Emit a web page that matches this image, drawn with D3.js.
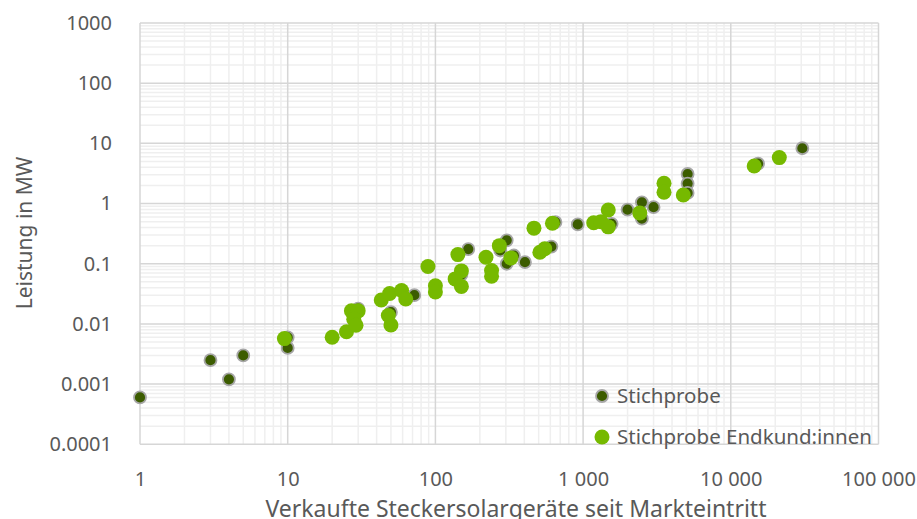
<!DOCTYPE html>
<html>
<head>
<meta charset="utf-8">
<script src="https://cdn.jsdelivr.net/npm/d3@7"></script>
<style>
  body { margin: 0; background: #ffffff; }
  svg text { font-family: "Noto Sans", sans-serif; fill: #595959; }
</style>
</head>
<body>
<script>
// Stichprobe (dunkelgrün)
var sampleX = [1, 3, 4, 5, 10, 10, 30, 50, 72, 150, 167, 275, 304, 304, 340, 404, 610, 650, 920, 1560, 2000, 2500, 2500, 3000, 5100, 5100, 5100, 15300, 30500];
var sampleY = [0.0006, 0.0025, 0.0012, 0.003, 0.006, 0.004, 0.018, 0.0157, 0.030, 0.066, 0.175, 0.166, 0.245, 0.1, 0.137, 0.106, 0.193, 0.49, 0.45, 0.46, 0.79, 1.05, 0.56, 0.87, 3.1, 2.15, 1.5, 4.6, 8.3];

// Stichprobe Endkund:innen (hellgrün)
var endX = [9.5, 20, 25, 27, 30, 28, 29, 43, 49, 48, 50, 59, 63, 89, 100, 100, 142, 150, 136, 150, 220, 240, 240, 271, 324, 465, 510, 550, 620, 1180, 1320, 1480, 1480, 2420, 3530, 3530, 4770, 14400, 21300];
var endY = [0.0057, 0.006, 0.0074, 0.0165, 0.0165, 0.012, 0.0095, 0.025, 0.032, 0.0138, 0.0096, 0.036, 0.026, 0.09, 0.043, 0.034, 0.142, 0.076, 0.056, 0.042, 0.128, 0.077, 0.062, 0.2, 0.125, 0.39, 0.155, 0.177, 0.47, 0.48, 0.5, 0.78, 0.41, 0.7, 2.17, 1.54, 1.39, 4.2, 5.8];

var xTicks = [1, 10, 100, 1000, 10000, 100000];
var xTickLabels = ["1", "10", "100", "1 000", "10 000", "100 000"];
var yTicks = [0.0001, 0.001, 0.01, 0.1, 1, 10, 100, 1000];
var yTickLabels = ["0.0001", "0.001", "0.01", "0.1", "1", "10", "100", "1000"];

var seriesNames = ["Stichprobe", "Stichprobe Endkund:innen"];

var width = 917, height = 519;
var plot = {left: 140, right: 878.5, top: 23, bottom: 444.3};

var svg = d3.select("body").append("svg")
    .attr("width", width)
    .attr("height", height);

var x = d3.scaleLog().domain([1, 100000]).range([plot.left, plot.right]);
var y = d3.scaleLog().domain([0.0001, 1000]).range([plot.bottom, plot.top]);

// Nebengitter (2..9 in jeder Dekade)
var minorX = [], minorY = [];
for (let e = 0; e < 5; e++)
    for (let k = 2; k < 10; k++) minorX.push(k * Math.pow(10, e));
for (let e = -4; e < 3; e++)
    for (let k = 2; k < 10; k++) minorY.push(+(k * Math.pow(10, e)).toPrecision(3));

var grid = svg.append("g");
grid.selectAll("line.mx").data(minorX).enter().append("line")
    .attr("x1", d => x(d)).attr("x2", d => x(d))
    .attr("y1", plot.top).attr("y2", plot.bottom)
    .attr("stroke", "#efefef").attr("stroke-width", 1.5);
grid.selectAll("line.my").data(minorY).enter().append("line")
    .attr("x1", plot.left).attr("x2", plot.right)
    .attr("y1", d => y(d)).attr("y2", d => y(d))
    .attr("stroke", "#efefef").attr("stroke-width", 1.5);

// Hauptgitter
grid.selectAll("line.MX").data(xTicks).enter().append("line")
    .attr("x1", d => x(d)).attr("x2", d => x(d))
    .attr("y1", plot.top).attr("y2", plot.bottom)
    .attr("stroke", "#d6d6d6").attr("stroke-width", 1.5);
grid.selectAll("line.MY").data(yTicks).enter().append("line")
    .attr("x1", plot.left).attr("x2", plot.right)
    .attr("y1", d => y(d)).attr("y2", d => y(d))
    .attr("stroke", "#d6d6d6").attr("stroke-width", 1.5);

// Achsen
var xAxis = d3.axisBottom(x)
    .tickValues(xTicks)
    .tickFormat((d, i) => xTickLabels[i])
    .tickSize(0).tickPadding(0);
var gx = svg.append("g").attr("transform", "translate(0," + (plot.bottom + 27.5) + ")").call(xAxis);
gx.select(".domain").remove();
gx.selectAll("text").attr("font-size", 20).attr("fill", "#595959").attr("font-family", "Noto Sans");

var yAxis = d3.axisLeft(y)
    .tickValues(yTicks)
    .tickFormat((d, i) => yTickLabels[i])
    .tickSize(0).tickPadding(0);
var gy = svg.append("g").attr("transform", "translate(" + 112 + ",0)").call(yAxis);
gy.select(".domain").remove();
gy.selectAll("text").attr("font-size", 20).attr("fill", "#595959").attr("font-family", "Noto Sans");

// Achsentitel
svg.append("text")
    .attr("x", 516).attr("y", 516.5)
    .attr("text-anchor", "middle")
    .attr("font-size", 23)
    .text("Verkaufte Steckersolargeräte seit Markteintritt");
svg.append("text")
    .attr("transform", "translate(32,233) rotate(-90)")
    .attr("text-anchor", "middle")
    .attr("font-size", 21)
    .text("Leistung in MW");

// Punkte
var sampleData = sampleX.map((d, i) => [d, sampleY[i]]);
var endData = endX.map((d, i) => [d, endY[i]]);

svg.append("g").selectAll("circle").data(sampleData).enter().append("circle")
    .attr("cx", d => x(d[0]))
    .attr("cy", d => y(d[1]))
    .attr("r", 6)
    .attr("fill", "#3c5c00")
    .attr("stroke", "#a6a6a6")
    .attr("stroke-width", 1.8);

svg.append("g").selectAll("circle").data(endData).enter().append("circle")
    .attr("cx", d => x(d[0]))
    .attr("cy", d => y(d[1]))
    .attr("r", 7.5)
    .attr("fill", "#76b900");

// Legende
var legend = svg.append("g");
legend.append("circle").attr("cx", 602).attr("cy", 396).attr("r", 6)
    .attr("fill", "#3c5c00").attr("stroke", "#a6a6a6").attr("stroke-width", 1.8);
legend.append("circle").attr("cx", 602).attr("cy", 437).attr("r", 7.5)
    .attr("fill", "#76b900");
legend.selectAll("text").data(seriesNames).enter().append("text")
    .attr("x", 617)
    .attr("y", (d, i) => 396 + i * 41)
    .attr("dy", "0.35em")
    .attr("font-size", 20.5)
    .text(d => d);
</script>
</body>
</html>
